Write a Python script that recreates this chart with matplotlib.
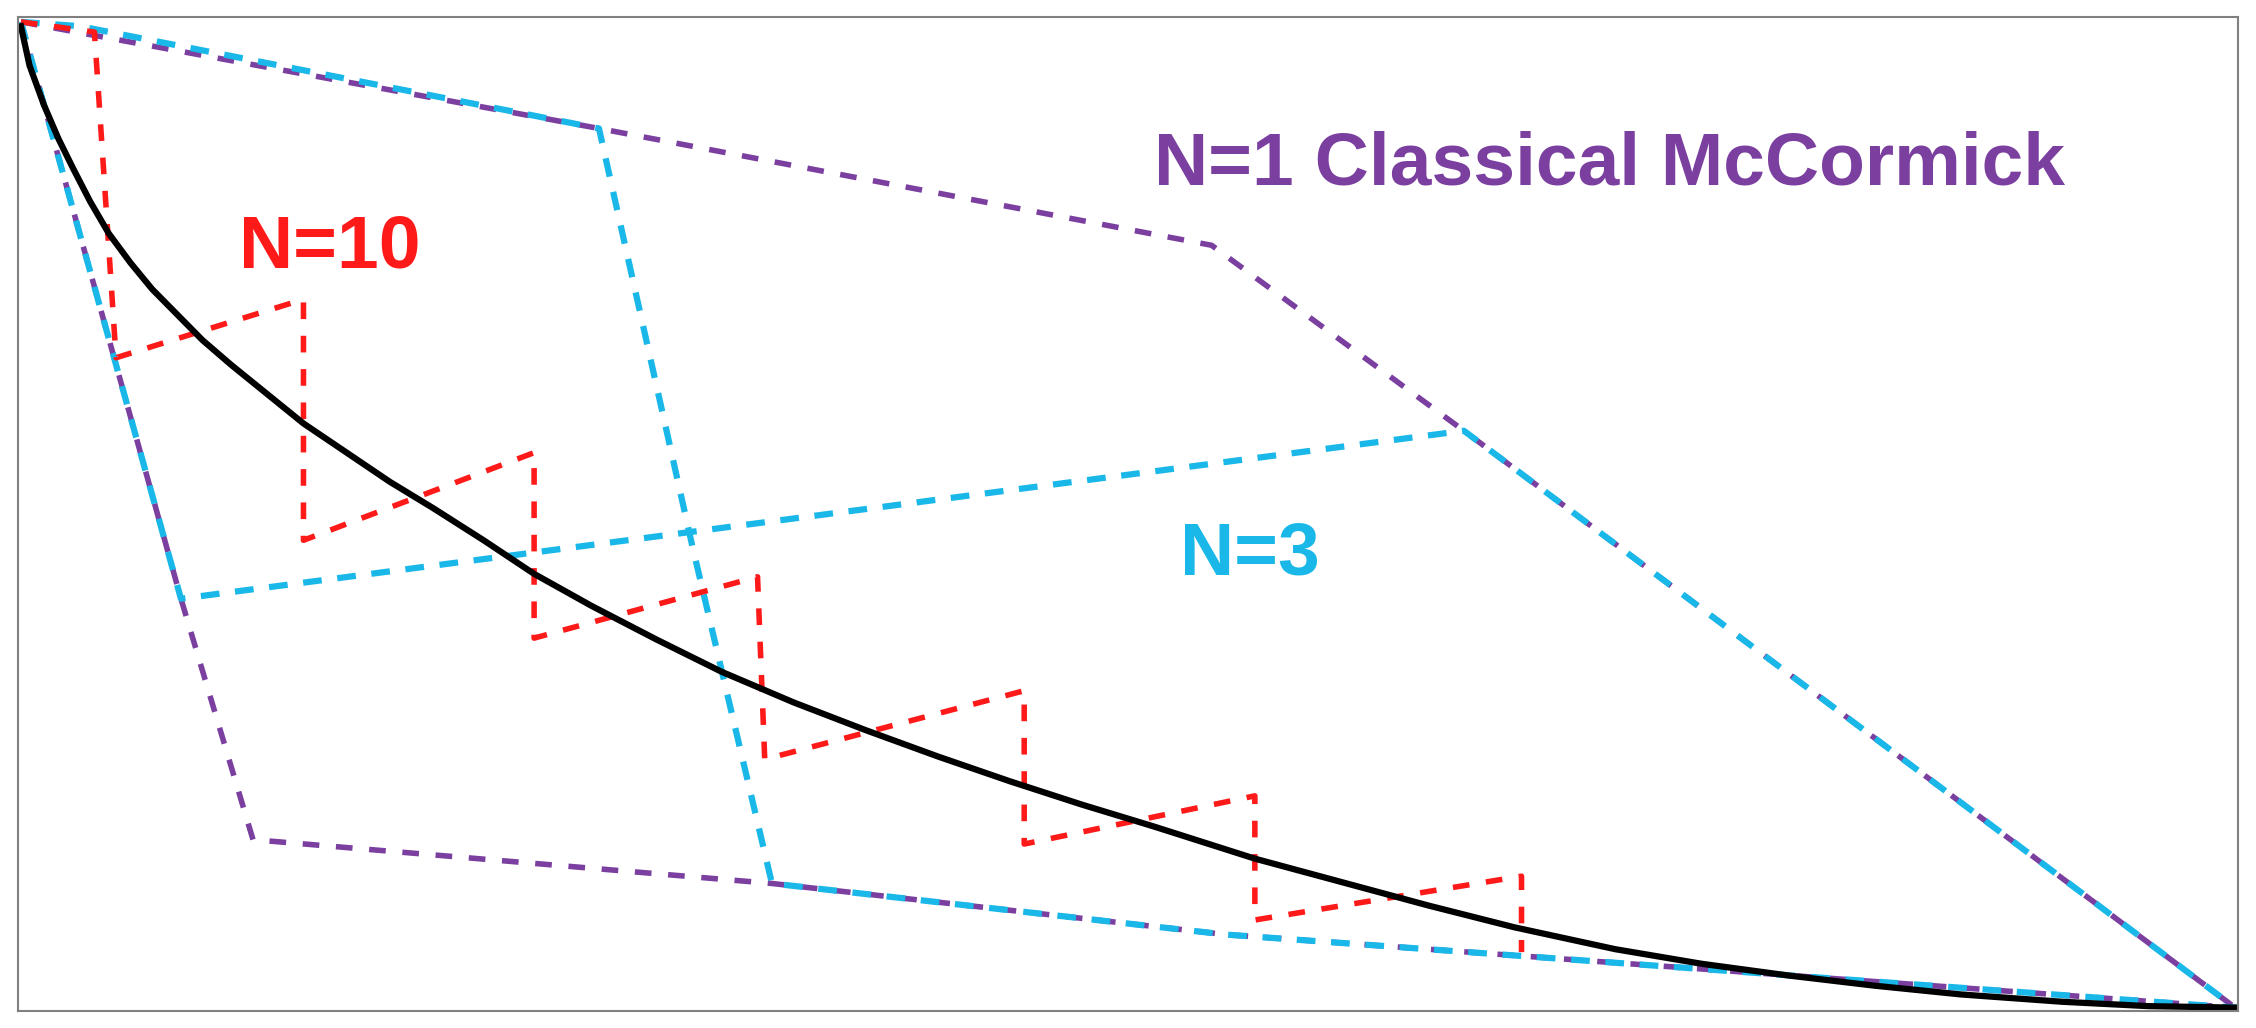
import matplotlib.pyplot as plt

# coordinates (image-like units, y downward)
curve_x = [14, 20, 30, 40, 50, 62, 75, 90, 105, 120, 140, 160, 185, 210, 240, 270, 300, 335, 370,
           410, 455, 500, 550, 600, 650, 700, 750, 800, 870, 930, 990, 1050, 1120, 1180, 1240,
           1300, 1360, 1430, 1490, 1550]
curve_y = [18, 45, 72, 95, 115, 138, 160, 180, 198, 213, 233, 250, 270, 290, 310, 330, 348, 370, 393,
           415, 438, 460, 481, 500, 518, 535, 551, 566, 588, 604, 620, 635, 650, 660, 668,
           675, 681, 686, 689, 690]

n1_upper_x = [14, 415, 840, 1015, 1550]
n1_upper_y = [15, 88, 168, 295, 690]
n1_lower_x = [14, 125, 175, 535, 850, 1550]
n1_lower_y = [15, 410, 575, 605, 640, 690]

n3_a_x = [14, 125, 1015, 1550]
n3_a_y = [15, 410, 295, 690]
n3_b_x = [14, 55, 415, 480, 535, 850, 1550]
n3_b_y = [15, 18, 88, 375, 605, 640, 690]

n10_x = [14, 65, 80, 210, 210, 370, 370, 525, 530, 710, 710, 870, 870, 1055, 1055]
n10_y = [15, 22, 245, 205, 370, 310, 437, 395, 520, 473, 578, 545, 630, 600, 652]

PURPLE = '#7b3fa0'
CYAN = '#1ab8e8'
RED = '#ff1a1a'

fig = plt.figure(figsize=(22.56, 10.28), dpi=100)
ax = fig.add_axes([0.008, 0.017, 0.984, 0.966])
ax.set_xlim(12, 1552)
ax.set_ylim(692, 12)
ax.set_xticks([])
ax.set_yticks([])
for s in ax.spines.values():
    s.set_color('#808080')
    s.set_linewidth(1.5)

ax.plot(n1_upper_x, n1_upper_y, color=PURPLE, lw=4, ls=(0, (3, 3)))
ax.plot(n1_lower_x, n1_lower_y, color=PURPLE, lw=4, ls=(0, (3, 3)))
ax.plot(n3_a_x, n3_a_y, color=CYAN, lw=4.5, ls=(0, (3, 2.5)))
ax.plot(n3_b_x, n3_b_y, color=CYAN, lw=4.5, ls=(0, (3, 2.5)))
ax.plot(n10_x, n10_y, color=RED, lw=4, ls=(0, (3, 3)))
ax.plot(curve_x, curve_y, color='black', lw=4.5, solid_joinstyle='round')

fnt = dict(family='Liberation Sans', fontweight='bold', fontsize=54)
ax.text(165, 170, 'N=10', color=RED, va='center', **fnt)
ax.text(800, 113, 'N=1 Classical McCormick', color=PURPLE, va='center', **fnt)
ax.text(818, 380, 'N=3', color=CYAN, va='center', **fnt)

fig.savefig('out.png')
